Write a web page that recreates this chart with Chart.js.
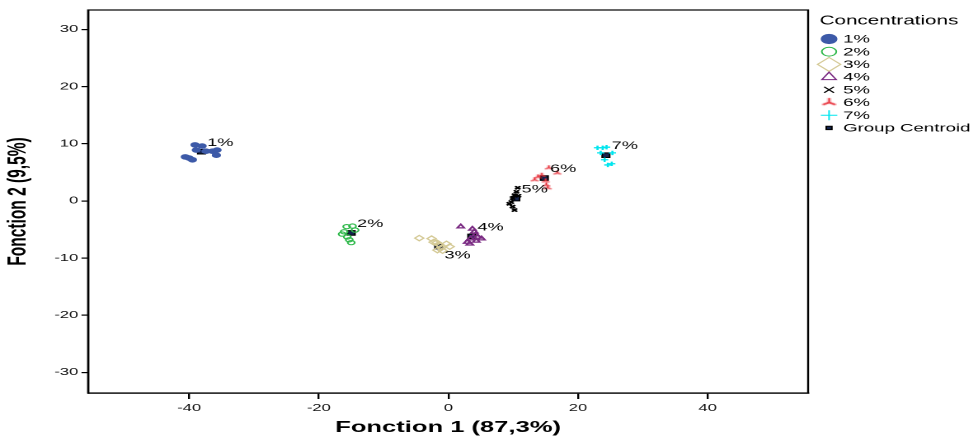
<!DOCTYPE html>
<html>
<head>
<meta charset="utf-8">
<script src="https://cdn.jsdelivr.net/npm/chart.js@4/dist/chart.umd.min.js"></script>
<style>
  html, body { margin: 0; padding: 0; background: #fff; overflow: hidden; }
  /* the source picture is stretched sideways, so draw narrow and scale */
  #wrap { width: 590px; height: 438px; transform: scaleX(1.6492); transform-origin: 0 0; }
</style>
</head>
<body>
<div id="wrap"><canvas id="lda"></canvas></div>
<script>
// ---- data ----
const groups = ['1%', '2%', '3%', '4%', '5%', '6%', '7%'];

const g1x = [-39.1, -38.0, -38.9, -37.4, -36.4, -35.7, -35.8, -40.6, -40.0, -39.5];
const g1y = [9.8, 9.6, 8.9, 8.7, 8.7, 8.9, 8.0, 7.7, 7.5, 7.2];
const g2x = [-15.7, -14.8, -16.1, -15.6, -15.3, -15.0, -14.4, -16.4];
const g2y = [-4.5, -4.4, -5.4, -6.3, -6.8, -7.3, -5.1, -5.8];
const g3x = [-4.5, -2.6, -2.3, -1.8, -1.4, -1.1, -0.9, -0.3, 0.2, -1.7];
const g3y = [-6.5, -6.6, -7.2, -7.3, -7.7, -8.2, -8.7, -7.5, -8.0, -8.6];
const g4x = [1.9, 3.7, 4.0, 4.2, 3.4, 2.9, 4.5, 5.1, 3.3, 4.3];
const g4y = [-4.5, -4.9, -5.4, -5.9, -6.6, -7.2, -6.3, -6.6, -7.5, -7.0];
const g5x = [10.7, 10.5, 10.2, 9.9, 9.7, 9.4, 9.9, 10.2, 10.8];
const g5y = [2.3, 1.6, 1.0, 0.5, -0.2, -0.5, -1.0, -1.6, 0.9];
const g6x = [13.3, 13.8, 14.4, 15.1, 15.3, 16.8, 15.5, 15.0];
const g6y = [3.7, 4.2, 4.5, 2.8, 2.3, 4.9, 5.8, 3.5];
const g7x = [23.0, 23.8, 24.4, 25.3, 24.1, 24.6, 25.2, 23.5];
const g7y = [9.3, 9.3, 9.4, 8.4, 7.2, 6.3, 6.5, 8.4];

const centroidX = [-38.1, -15.0, -1.5, 3.6, 10.4, 14.8, 24.3];
const centroidY = [8.6, -5.6, -8.0, -6.2, 0.4, 4.0, 8.0];

const xTicks = [-40, -20, 0, 20, 40];
const yTicks = [-30, -20, -10, 0, 10, 20, 30];

const FONT = '"Liberation Sans", Arial, sans-serif';

const pts = (xs, ys) => xs.map((x, i) => ({ x: x, y: ys[i] }));

// "tri" marker (three spokes) for the 6% group
function makeTri(size, color, lw) {
    const c = document.createElement('canvas');
    c.width = size; c.height = size;
    const g = c.getContext('2d');
    const m = size / 2, r = size / 2 - 1;
    g.strokeStyle = color;
    g.lineWidth = lw;
    g.beginPath();
    g.moveTo(m, m); g.lineTo(m, m - r);
    g.moveTo(m, m); g.lineTo(m - r * 0.87, m + r * 0.5);
    g.moveTo(m, m); g.lineTo(m + r * 0.87, m + r * 0.5);
    g.stroke();
    return c;
}

const datasets = [
    { label: groups[0], data: pts(g1x, g1y), pointStyle: 'circle', pointRadius: 2.3,
      backgroundColor: '#3d5aa8', borderColor: '#3d5aa8', borderWidth: 1,
      legendRadius: 4.6, legendWidth: 1 },
    { label: groups[1], data: pts(g2x, g2y), pointStyle: 'circle', pointRadius: 2.1,
      backgroundColor: 'rgba(0,0,0,0)', borderColor: '#2eb84a', borderWidth: 1.1,
      legendRadius: 4.4, legendWidth: 1.5 },
    { label: groups[2], data: pts(g3x, g3y), pointStyle: 'rectRot', pointRadius: 2.7,
      backgroundColor: 'rgba(0,0,0,0)', borderColor: '#d4c995', borderWidth: 1.1,
      legendRadius: 7, legendWidth: 1.2 },
    { label: groups[3], data: pts(g4x, g4y), pointStyle: 'triangle', pointRadius: 2.4,
      backgroundColor: 'rgba(0,0,0,0)', borderColor: '#7a2a82', borderWidth: 1.3,
      legendRadius: 5, legendWidth: 1.6 },
    { label: groups[4], data: pts(g5x, g5y), pointStyle: 'crossRot', pointRadius: 2.2,
      backgroundColor: '#000', borderColor: '#000', borderWidth: 1.5,
      legendRadius: 4.2, legendWidth: 2.2 },
    { label: groups[5], data: pts(g6x, g6y), pointStyle: makeTri(7, '#e8323c', 1.3),
      backgroundColor: '#e8323c', borderColor: '#e8323c', borderWidth: 1,
      legendStyle: makeTri(11, '#e8323c', 1.5) },
    { label: groups[6], data: pts(g7x, g7y), pointStyle: 'cross', pointRadius: 2.2,
      backgroundColor: '#00e5ee', borderColor: '#00e5ee', borderWidth: 1.3,
      legendRadius: 5, legendWidth: 1.6 },
    { label: 'Group Centroid', data: pts(centroidX, centroidY), pointStyle: 'rect', pointRadius: 3.2,
      backgroundColor: '#14244e', borderColor: '#000', borderWidth: 1,
      legendRadius: 2.4, legendWidth: 1 }
];

// frame round the plot area
const framePlugin = {
    id: 'frame',
    afterDatasetsDraw(chart) {
        const a = chart.chartArea, ctx = chart.ctx;
        ctx.save();
        ctx.strokeStyle = '#000';
        ctx.lineWidth = 1.2;
        ctx.strokeRect(a.left, a.top, a.right - a.left, a.bottom - a.top);
        ctx.restore();
    }
};

// "1%", "2%" ... next to each centroid
const groupLabels = {
    id: 'groupLabels',
    afterDatasetsDraw(chart) {
        const meta = chart.getDatasetMeta(7);
        const ctx = chart.ctx;
        ctx.save();
        ctx.font = '11px ' + FONT;
        ctx.fillStyle = '#000';
        ctx.textBaseline = 'middle';
        ctx.textAlign = 'left';
        meta.data.forEach((p, i) => {
            const dy = i === 2 ? 9 : -9;
            ctx.fillText(groups[i], p.x + 3.5, p.y + dy);
        });
        ctx.restore();
    }
};

// legend on the right, drawn by hand to get the tight spacing
const sideLegend = {
    id: 'sideLegend',
    afterDraw(chart) {
        const ctx = chart.ctx;
        const x0 = chart.chartArea.right + 7;
        ctx.save();
        ctx.fillStyle = '#000';
        ctx.textBaseline = 'middle';
        ctx.textAlign = 'left';
        ctx.font = '12.5px ' + FONT;
        ctx.fillText('Concentrations', x0, 21);
        ctx.font = '11.3px ' + FONT;
        chart.data.datasets.forEach((ds, i) => {
            const y = 39 + i * 12.7;
            ctx.fillStyle = ds.backgroundColor;
            ctx.strokeStyle = ds.borderColor;
            Chart.helpers.drawPoint(ctx, {
                pointStyle: ds.legendStyle || ds.pointStyle,
                radius: ds.legendRadius || 5,
                borderWidth: ds.legendWidth || 1,
                rotation: 0
            }, x0 + 5.7, y);
            ctx.fillStyle = '#000';
            ctx.fillText(ds.label, x0 + 14.2, y + 0.5);
        });
        ctx.restore();
    }
};

new Chart(document.getElementById('lda'), {
    type: 'scatter',
    data: { datasets: datasets },
    options: {
        responsive: true,
        maintainAspectRatio: false,
        devicePixelRatio: 2,
        animation: false,
        events: [],
        layout: { padding: { top: 10, right: 100, left: 0, bottom: 0 } },
        plugins: { legend: { display: false }, tooltip: { enabled: false } },
        scales: {
            x: {
                type: 'linear',
                min: -55.6, max: 55.5,
                afterBuildTicks: s => { s.ticks = xTicks.map(v => ({ value: v })); },
                afterFit: s => { s.height = 45; },
                grid: { drawOnChartArea: false, drawTicks: true, tickLength: 6, color: '#000', lineWidth: 1.2 },
                border: { display: true, color: '#000', width: 1.2 },
                ticks: { padding: 3, color: '#111', maxRotation: 0, font: { family: FONT, size: 10 } },
                title: {
                    display: true, text: 'Fonction 1 (87,3%)', color: '#000',
                    font: { family: FONT, size: 15.5, weight: 'bold' },
                    padding: { top: 0, bottom: 1 }
                }
            },
            y: {
                type: 'linear',
                min: -33.6, max: 33.4,
                afterBuildTicks: s => { s.ticks = yTicks.map(v => ({ value: v })); },
                afterFit: s => { s.width = 53.4; },
                grid: { drawOnChartArea: false, drawTicks: true, tickLength: 4, color: '#000', lineWidth: 1.2 },
                border: { display: true, color: '#000', width: 1.2 },
                ticks: { padding: 2, color: '#111', font: { family: FONT, size: 10 } },
                title: {
                    display: true, text: 'Fonction 2 (9,5%)', color: '#000',
                    font: { family: FONT, size: 15.5, weight: 'bold' },
                    padding: { top: 2, bottom: 0 }
                }
            }
        }
    },
    plugins: [framePlugin, groupLabels, sideLegend]
});
</script>
</body>
</html>
